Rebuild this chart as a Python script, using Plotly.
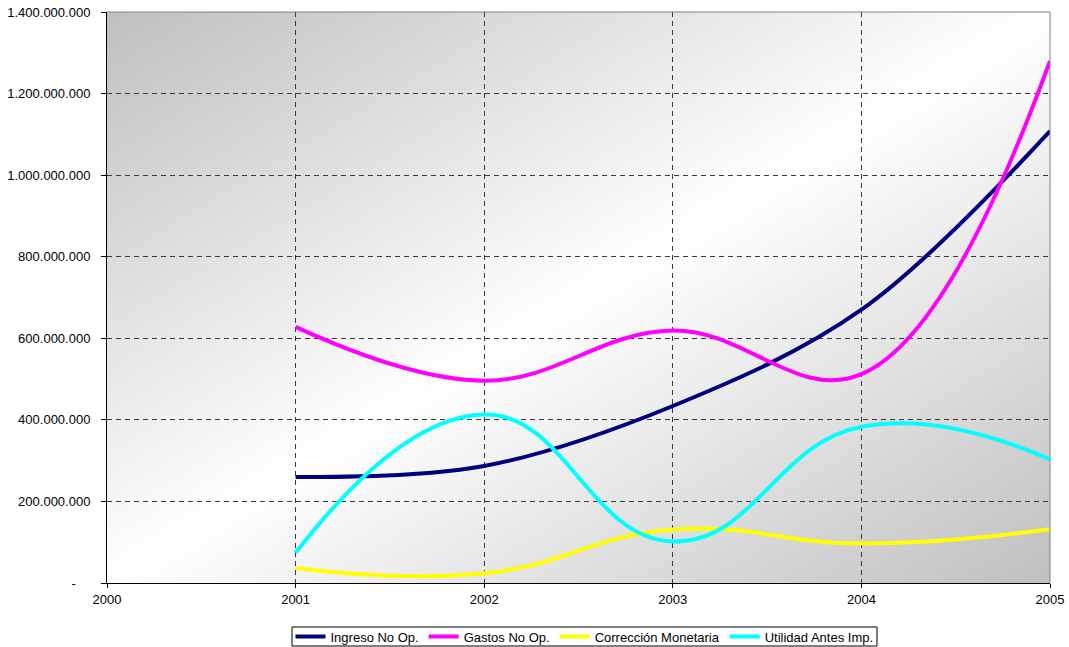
import base64
import struct
import zlib

import plotly.graph_objects as go

# Yearly values (in pesos)
years = [2001, 2002, 2003, 2004, 2005]
ingreso_no_op = [260_000_000, 287_000_000, 434_000_000, 670_000_000, 1_108_000_000]
gastos_no_op = [628_000_000, 496_000_000, 619_000_000, 512_000_000, 1_280_000_000]
correccion_monetaria = [37_000_000, 24_000_000, 131_000_000, 97_000_000, 132_000_000]
utilidad_antes_imp = [74_000_000, 413_000_000, 102_000_000, 383_000_000, 303_000_000]

y_tick_values = [0, 200_000_000, 400_000_000, 600_000_000, 800_000_000,
                 1_000_000_000, 1_200_000_000, 1_400_000_000]
y_tick_labels = ["-\u00a0\u00a0\u00a0\u00a0", "200.000.000", "400.000.000", "600.000.000",
                 "800.000.000", "1.000.000.000", "1.200.000.000", "1.400.000.000"]
x_tick_values = [2000, 2001, 2002, 2003, 2004, 2005]

# name, values, colour, spline smoothing
series = [
    ("Ingreso No Op.", ingreso_no_op, "#000080", 1.0),
    ("Gastos No Op.", gastos_no_op, "#FF00FF", 1.15),
    ("Corrección Monetaria", correccion_monetaria, "#FFFF00", 1.3),
    ("Utilidad Antes Imp.", utilidad_antes_imp, "#00FFFF", 1.3),
]


def png_chunk(tag, data):
    return (struct.pack(">I", len(data)) + tag + data
            + struct.pack(">I", zlib.crc32(tag + data) & 0xFFFFFFFF))


def diagonal_gradient_png(w, h, edge=192, centre=255):
    """Grey corners (top-left / bottom-right) fading to white along the other diagonal."""
    raw = bytearray()
    for j in range(h):
        raw.append(0)
        v = j / (h - 1)
        for i in range(w):
            u = i / (w - 1)
            t = min(1.0, abs(u + v - 1.0))
            c = round(centre - (centre - edge) * t)
            raw += bytes((c, c, c))
    png = b"\x89PNG\r\n\x1a\n"
    png += png_chunk(b"IHDR", struct.pack(">IIBBBBB", w, h, 8, 2, 0, 0, 0))
    png += png_chunk(b"IDAT", zlib.compress(bytes(raw), 9))
    png += png_chunk(b"IEND", b"")
    return "data:image/png;base64," + base64.b64encode(png).decode("ascii")


FONT = "Arial, 'Liberation Sans', sans-serif"
FS = 13

# plot area in pixels: x 107..1050, y 12..583
PLOT_L, PLOT_R, PLOT_T, PLOT_B = 107, 1050, 12, 583
PW, PH = PLOT_R - PLOT_L, PLOT_B - PLOT_T


def px_to_paper_x(px):
    return (px - PLOT_L) / PW


def px_to_paper_y(py):
    return (PLOT_B - py) / PH


fig = go.Figure()
for name, values, color, smooth in series:
    fig.add_trace(go.Scatter(
        x=years, y=values, name=name, mode="lines",
        line=dict(color=color, width=4, shape="spline", smoothing=smooth),
    ))

fig.update_layout(
    width=1069, height=647,
    margin=dict(l=PLOT_L, r=1069 - PLOT_R, t=PLOT_T, b=647 - PLOT_B, autoexpand=False),
    paper_bgcolor="white",
    plot_bgcolor="rgba(0,0,0,0)",
    font=dict(family=FONT, size=FS, color="black"),
    images=[dict(
        source=diagonal_gradient_png(240, 150),
        xref="paper", yref="paper", x=0, y=1, sizex=1, sizey=1,
        xanchor="left", yanchor="top", sizing="stretch", layer="below",
    )],
    legend=dict(
        orientation="h", x=px_to_paper_x(584.5), xanchor="center",
        y=px_to_paper_y(636.5), yanchor="middle",
        bgcolor="rgba(0,0,0,0)", borderwidth=0,
        font=dict(family=FONT, size=FS), itemwidth=30,
        tracegroupgap=0,
    ),
    shapes=[
        # legend frame
        dict(type="rect", xref="paper", yref="paper",
             x0=px_to_paper_x(292), x1=px_to_paper_x(877),
             y0=px_to_paper_y(646), y1=px_to_paper_y(627),
             fillcolor="white", line=dict(color="black", width=1), layer="above"),
        # top and right plot-area border
        dict(type="line", xref="paper", yref="paper", x0=0, x1=1, y0=1, y1=1,
             line=dict(color="#808080", width=1), layer="above"),
        dict(type="line", xref="paper", yref="paper", x0=1, x1=1, y0=0, y1=1,
             line=dict(color="#808080", width=1), layer="above"),
    ],
    hovermode=False,
)

fig.update_xaxes(
    range=[2000, 2005], tickvals=x_tick_values, ticktext=[str(v) for v in x_tick_values],
    showline=True, linecolor="black", linewidth=1,
    ticks="outside", ticklen=4, tickcolor="black",
    showgrid=True, gridcolor="#3a3a3a", gridwidth=1, griddash="5px,4px",
    zeroline=False, tickfont=dict(family=FONT, size=FS),
)
fig.update_yaxes(
    range=[0, 1_400_000_000], tickvals=y_tick_values, ticktext=y_tick_labels,
    showline=True, linecolor="black", linewidth=1,
    ticks="outside", ticklen=5, tickcolor="black",
    showgrid=True, gridcolor="#3a3a3a", gridwidth=1, griddash="5px,4px",
    zeroline=False, tickfont=dict(family=FONT, size=FS),
    ticklabelstandoff=8,
)

fig.write_html("out.html")
